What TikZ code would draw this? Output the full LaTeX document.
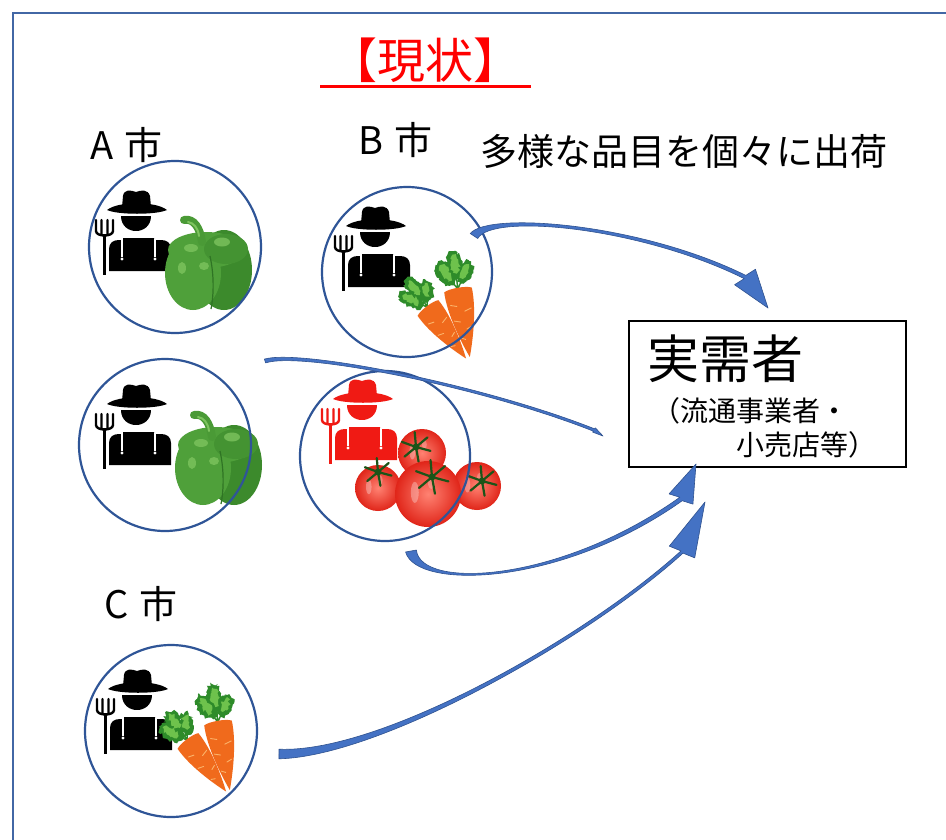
\documentclass[tikz,border=0pt]{standalone}
\usepackage{fontspec}
\setmainfont{Noto Sans CJK JP}
\usetikzlibrary{calc,decorations.pathmorphing}

\definecolor{frameblue}{HTML}{4267A5}
\definecolor{ringblue}{HTML}{2F5597}
\definecolor{arrowfill}{HTML}{4472C4}
\definecolor{arrowedge}{HTML}{2F528F}
\definecolor{pepdark}{HTML}{3C8A2C}
\definecolor{pepmid}{HTML}{4FA03A}
\definecolor{peplight}{HTML}{7DC35E}
\definecolor{pepshade}{HTML}{2F7424}
\definecolor{pepstem}{HTML}{4A9A36}
\definecolor{carrotbody}{HTML}{F06A1C}
\definecolor{carrotline}{HTML}{FBB36A}
\definecolor{leafdark}{HTML}{2E8B2A}
\definecolor{leaflight}{HTML}{6EC24C}
\definecolor{tomred}{HTML}{E02519}
\definecolor{tomlight}{HTML}{FF8272}
\definecolor{calyx}{HTML}{1C5418}
\definecolor{farmred}{HTML}{F01A14}

% one tomato: centre x, centre y, radius
\newcommand\tomatoball[3]{%
  \shade[inner color=tomlight, outer color=tomred] (#1,#2) circle (#3);
  \fill[white, opacity=.3] ($(#1,#2)+({-0.4*#3},{-0.05*#3})$) ellipse ({0.12*#3} and {0.32*#3});
  \fill[white, opacity=.25] ($(#1,#2)+({0.1*#3},{-0.35*#3})$) ellipse ({0.1*#3} and {0.2*#3});
}
% star-shaped calyx: x, y, sepal length
\newcommand\calyxstar[3]{%
  \foreach \ang in {15,80,140,200,265,320}
    \draw[calyx, line width=2.2pt, line cap=round] (#1,#2) -- ++(\ang:#3);
  \fill[calyx] (#1,#2) circle (3.5);
}
% tapered curved arrow: P0 P1 P2 P3, tail half width, shaft half width, tip, head half width
\newcommand\bandarrow[8]{%
  \fill[arrowbody]
    ($(#1)!#5!90:(#2)$) .. controls ($(#2)!#6!-90:(#1)$) and ($(#3)!#6!90:(#4)$) .. ($(#4)!#6!-90:(#3)$)
    -- ($(#4)!#8!90:(#7)$) -- (#7) -- ($(#4)!#8!-90:(#7)$)
    -- ($(#4)!#6!90:(#3)$) .. controls ($(#3)!#6!-90:(#4)$) and ($(#2)!#6!90:(#1)$) .. ($(#1)!#5!-90:(#2)$)
    -- cycle;
}

\tikzset{
  ring/.style={circle, draw=ringblue, line width=2.2pt, inner sep=0pt, minimum size=#1},
  arrowbody/.style={fill=arrowfill, draw=arrowedge, line width=0.6pt, line join=round},
  lbl/.style={font=\fontsize{38}{42}\selectfont, anchor=base west, inner sep=0pt},
  farmer/.pic={
    % hat crown and brim
    \fill[#1] (-14,-15) -- (-13,-26) .. controls (-12,-33) and (-5,-32) .. (0,-30)
      .. controls (5,-32) and (12,-33) .. (14,-26) -- (15,-15) -- cycle;
    \fill[#1] (-29,-12) .. controls (-18,-21) and (20,-21) .. (31,-12)
      .. controls (20,-7) and (-18,-7) .. cycle;
    % face
    \fill[#1] (-15,-6) -- (15,-6) .. controls (15,14) and (-15,14) .. cycle;
    % overalls
    \fill[#1] (-27,49) -- (-27,27) .. controls (-27,21) and (-23,18) .. (-17,18)
      -- (-13,18) -- (-13,16) -- (18,16) -- (18,18) -- (25,18)
      .. controls (31,18) and (35,21) .. (35,27) -- (35,49) -- cycle;
    \draw[white, line width=2.2pt] (-14,17) -- (-14,35) (19,17) -- (19,35);
    \fill[white] (-14,37) circle (1.7) (19,37) circle (1.7);
    % pitchfork
    \draw[#1, line width=3.6pt] (-31.5,12) -- (-31.5,53);
    \draw[#1, line width=2.4pt, line cap=round] (-40,-2) -- (-40,9)
      .. controls (-40,15) and (-23,15) .. (-23,9) -- (-23,-2)
      (-34.5,-2) -- (-34.5,13) (-28.5,-2) -- (-28.5,13);
  },
  pepper/.pic={
    \fill[pepdark] (16,8) ellipse (28 and 40);
    \fill[pepmid] (-15,11) ellipse (28 and 37);
    \fill[pepmid] (-2,-12) ellipse (38 and 18);
    \fill[pepdark!60!pepmid] (18,-13) ellipse (22 and 15);
    \draw[pepshade, line width=1.2pt] (2,-6) .. controls (6,12) and (6,32) .. (3,47);
    \fill[peplight, opacity=.8] (14,-20) ellipse (8 and 4.5) (-17,-14) ellipse (7 and 4)
      (-4,4) ellipse (5 and 4) (-26,6) ellipse (4 and 6);
    \draw[pepstem, line width=8pt, line cap=round] (-6,-20) .. controls (-8,-34) and (-14,-44) .. (-24,-42);
    \draw[peplight, line width=2pt, line cap=round] (-9,-26) .. controls (-10,-34) and (-14,-39) .. (-20,-40);
  },
  carrot/.pic={
    \draw[leafdark, line width=1.4pt] (0,-1) -- (-7,-14) (0,-1) -- (1,-18) (0,-1) -- (8,-13);
    \begin{scope}[decoration={random steps, segment length=2pt, amplitude=1.7pt}]
      \fill[leafdark, decorate, rotate around={25:(-9,-18)}] (-9,-18) ellipse (8 and 14);
      \fill[leafdark, decorate] (1,-25) ellipse (8 and 14);
      \fill[leafdark, decorate, rotate around={-30:(10,-16)}] (10,-16) ellipse (7 and 12);
      \fill[leaflight, decorate, rotate around={25:(-9,-19)}] (-9,-19) ellipse (4 and 9);
      \fill[leaflight, decorate] (1,-26) ellipse (4 and 9);
      \fill[leaflight, decorate, rotate around={-30:(10,-17)}] (10,-17) ellipse (3.5 and 7);
    \end{scope}
    \fill[carrotbody] (-14,0) .. controls (-15,22) and (-6,52) .. (0,68)
      .. controls (6,52) and (15,22) .. (14,0) .. controls (9,-3) and (-9,-3) .. cycle;
    \draw[carrotline, line width=0.9pt, line cap=round] (-10,14) -- (-4,16) (3,22) -- (10,20)
      (-9,30) -- (-3,32) (2,40) -- (7,38) (-5,48) -- (-1,50);
  },
  carrotpair/.pic={
    \pic[rotate=10] at (18,-10) {carrot};
    \pic[rotate=37, scale=0.93] at (-12,8) {carrot};
  },
}

\begin{document}
\begin{tikzpicture}[x=1pt,y=-1pt]
\useasboundingbox (0,0) rectangle (946,839);
\fill[white] (0,0) rectangle (946,839);
\draw[frameblue, line width=2.6pt] (947,13) -- (13,13) -- (13,840);

% producers
\pic at (136,222) {farmer=black};
\pic at (136,416) {farmer=black};
\pic at (375,238) {farmer=black};
\pic at (362,411) {farmer=farmred};
\pic at (137,701) {farmer=black};

% produce
\pic at (208,262) {pepper};
\pic at (218,457) {pepper};
\pic at (440,300) {carrotpair};
\pic at (200,733) {carrotpair};
\tomatoball{422}{453}{24}
\calyxstar{416}{447}{15}
\tomatoball{378}{488}{23}
\calyxstar{378}{472}{14}
\tomatoball{477}{486}{24}
\calyxstar{482}{481}{15}
\tomatoball{428}{494}{33}
\calyxstar{432}{477}{17}

% producer circles
\node[ring=172pt] (a1) at (175,247) {};
\node[ring=172pt] (a2) at (165,445) {};
\node[ring=170pt] (b1) at (407,272) {};
\node[ring=170pt] (b2) at (385,456) {};
\node[ring=172pt] (c1) at (171,731) {};

% buyer box
\node[draw=black, line width=1.8pt, minimum width=277pt, minimum height=146pt,
      inner sep=0pt, anchor=north west] (buyer) at (628,320) {};
\node[font=\fontsize{52}{56}\selectfont, anchor=base west, inner sep=0pt] (buyername) at (647,378) {実需者};
\node[font=\fontsize{28}{32}\selectfont, anchor=base west, inner sep=0pt] (buyerkind1) at (652,421) {（流通事業者・};
\node[font=\fontsize{28}{32}\selectfont, anchor=base west, inner sep=0pt] (buyerkind2) at (736,455) {小売店等）};

% shipments
\coordinate (bA0) at (474,236); \coordinate (bA1) at (490,212);
\coordinate (bA2) at (640,225); \coordinate (bA3) at (745,277);
\coordinate (bAtip) at (768,308);
\bandarrow{bA0}{bA1}{bA2}{bA3}{4.5pt}{1.8pt}{bAtip}{13pt}

\coordinate (aA0) at (265,361); \coordinate (aA1) at (300,350);
\coordinate (aA2) at (480,385); \coordinate (aA3) at (594,430);
\coordinate (aAtip) at (603,436);
\bandarrow{aA0}{aA1}{aA2}{aA3}{2pt}{1.3pt}{aAtip}{2.5pt}

\coordinate (tA0) at (411,551); \coordinate (tA1) at (418,590);
\coordinate (tA2) at (560,585); \coordinate (tA3) at (681,499);
\coordinate (tAtip) at (696,464);
\bandarrow{tA0}{tA1}{tA2}{tA3}{5.5pt}{2.1pt}{tAtip}{13pt}

\coordinate (cA0) at (279,754); \coordinate (cA1) at (380,755);
\coordinate (cA2) at (585,640); \coordinate (cA3) at (682,552);
\coordinate (cAtip) at (705,502);
\bandarrow{cA0}{cA1}{cA2}{cA3}{4.8pt}{1.5pt}{cAtip}{14pt}

% headings
\node[font=\fontsize{48}{52}\selectfont, text=red, anchor=base, inner sep=0pt] (title) at (425,78) {【現状】};
\draw[red, line width=3pt] (320,86) -- (531,86);
\node[lbl] (labelA) at (90,159) {A\hspace{0.3em}市};
\node[lbl] (labelB) at (358,154) {B\hspace{0.3em}市};
\node[lbl] (labelC) at (104,618) {C\hspace{0.3em}市};
\node[lbl, font=\fontsize{37}{40}\selectfont] (note) at (480,165) {多様な品目を個々に出荷};
\end{tikzpicture}
\end{document}
